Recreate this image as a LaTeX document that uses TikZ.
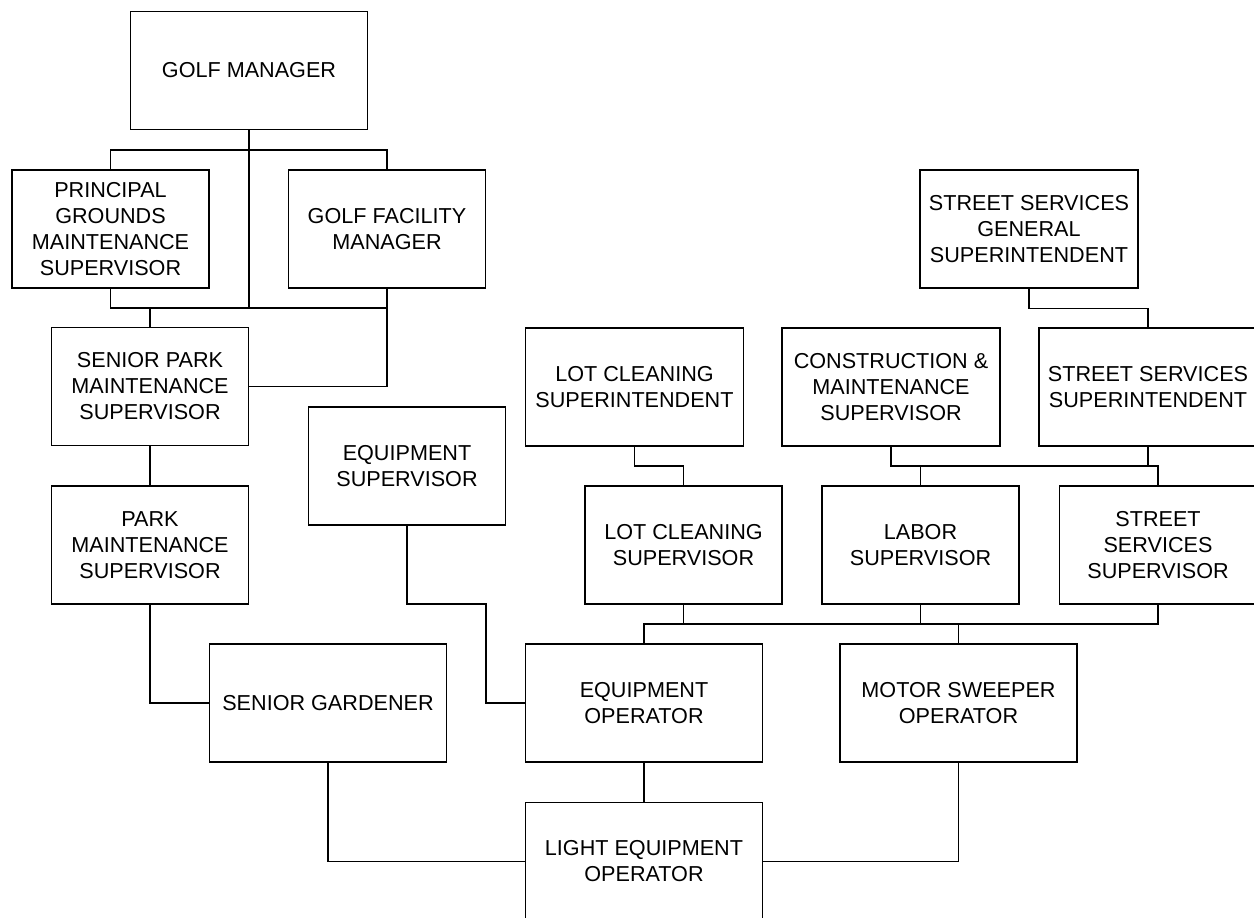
\documentclass[tikz,border=0pt]{standalone}
\usepackage{fontspec}
\setmainfont{Liberation Sans}

\begin{document}
\begin{tikzpicture}[x=0.02cm,y=-0.02cm,line width=0.7pt,
  box/.style={draw,align=center,inner sep=0pt,minimum height=2.36cm,
    minimum width=#1,font=\fontsize{12.3pt}{14.8pt}\selectfont},
  box/.default=3.94cm]
\useasboundingbox (0,0) rectangle (1254,918);

\node [box=4.74cm] (gm)     at ( 249,  70.5) {GOLF MANAGER};
\node [box]        (pgms)   at (110.5, 229)  {PRINCIPAL\\ GROUNDS\\ MAINTENANCE\\ SUPERVISOR};
\node [box]        (gfm)    at ( 387,  229)  {GOLF FACILITY\\ MANAGER};
\node [box]        (spms)   at ( 150, 386.5) {SENIOR PARK\\ MAINTENANCE\\ SUPERVISOR};
\node [box]        (pms)    at ( 150,  545)  {PARK\\ MAINTENANCE\\ SUPERVISOR};
\node [box]        (es)     at ( 407,  466)  {EQUIPMENT\\ SUPERVISOR};
\node [box=4.74cm] (sg)     at ( 328,  703)  {SENIOR GARDENER};
\node [box=4.74cm] (eo)     at ( 644,  703)  {EQUIPMENT\\ OPERATOR};
\node [box=4.74cm] (mso)    at (958.5, 703)  {MOTOR SWEEPER\\ OPERATOR};
\node [box=4.74cm] (leo)    at ( 644, 861.5) {LIGHT EQUIPMENT\\ OPERATOR};
\node [box=4.36cm] (ssgs)   at (1029,  229)  {STREET SERVICES\\ GENERAL\\ SUPERINTENDENT};
\node [box=4.36cm] (lcsupt) at (634.5, 387)  {LOT CLEANING\\ SUPERINTENDENT};
\node [box=4.36cm] (cms)    at ( 891,  387)  {CONSTRUCTION \&\\ MAINTENANCE\\ SUPERVISOR};
\node [box=4.36cm] (sssupt) at (1148,  387)  {STREET SERVICES\\ SUPERINTENDENT};
\node [box]        (lcs)    at (683.5, 545)  {LOT CLEANING\\ SUPERVISOR};
\node [box]        (ls)     at (920.5, 545)  {LABOR\\ SUPERVISOR};
\node [box]        (sss)    at (1158,  545)  {STREET\\ SERVICES\\ SUPERVISOR};

\coordinate (golftop) at (249, 150);
\coordinate (golflow) at (249, 308);
\coordinate (esbend)  at (486, 604);
\coordinate (midrow)  at (0, 466);
\coordinate (opbus)   at (0, 624);

% golf side
\draw (gm.south) -- (golflow);
\draw (pgms.north) |- (golftop) -| (gfm.north);
\draw (pgms.south) |- (golflow) -| (gfm.south);
\draw (gfm.south) |- (spms.east);
\draw (spms.north) -- (spms.north |- golflow);
\draw (spms) -- (pms);
\draw (pms.south) |- (sg.west);
\draw (es.south) |- (esbend) |- (eo.west);

% street side
\draw (ssgs.south) -- ++(0,20) -| (sssupt.north);
\draw (lcsupt.south) |- (lcs.north |- midrow) -- (lcs.north);
\draw (cms.south) |- (sss.north |- midrow) -- (sss.north);
\draw (ls.north) -- (ls.north |- midrow);
\draw (sssupt.south) -- (sssupt.south |- midrow);
\draw (sss.south) |- (eo.north |- opbus) -- (eo.north);
\draw (lcs.south) -- (lcs.south |- opbus);
\draw (ls.south) -- (ls.south |- opbus);
\draw (mso.north) -- (mso.north |- opbus);

% light equipment operator
\draw (sg.south) |- (leo.west);
\draw (eo) -- (leo);
\draw (mso.south) |- (leo.east);
\end{tikzpicture}
\end{document}
